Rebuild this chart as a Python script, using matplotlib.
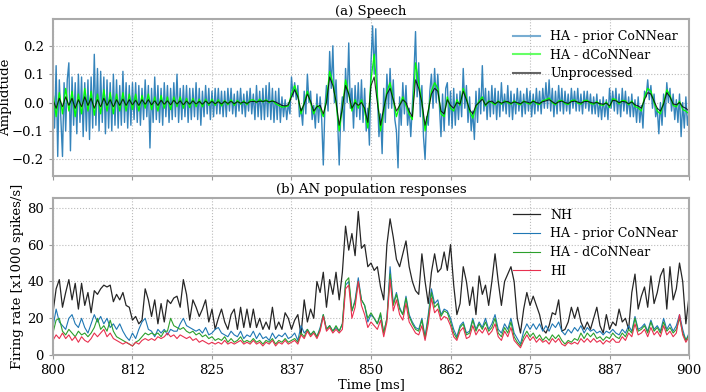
import numpy as np
import matplotlib
matplotlib.use('Agg')
import matplotlib.pyplot as plt
from matplotlib.ticker import FormatStrFormatter

plt.rcParams['font.family'] = 'DejaVu Serif'
plt.rcParams['font.size'] = 9

# %% data
# (a) speech waveform, unprocessed + dCoNNear on a 0.5 ms grid, prior CoNNear on 0.25 ms
t_half = np.arange(800, 900.01, 0.5)
t_quarter = np.arange(800, 900.01, 0.25)

unprocessed = [
    0.01, -0.02, 0.015, -0.015, 0.02, -0.01, 0.015, -0.02, 0.01, -0.015,
    0.02, -0.01, 0.015, -0.02, 0.01, -0.015, 0.015, -0.01, 0.01, -0.015,
    0.01, -0.01, 0.012, -0.01, 0.01, -0.008, 0.008, -0.01, 0.01, -0.006,
    0.01, -0.008, 0.006, -0.01, 0.008, -0.006, 0.006, -0.008, 0.008, -0.005,
    0.006, -0.008, 0.005, -0.006, 0.006, -0.005, 0.004, -0.006, 0.005, -0.004,
    0.004, -0.004, 0.003, -0.005, 0.004, -0.003, 0.004, -0.004, 0.003, -0.002,
    0.002, -0.003, 0.003, 0.004, 0.002, 0.005, 0.004, 0.006, 0.003, 0.005,
    0.002, -0.004, -0.01, -0.012, -0.008, 0.02, 0.045, 0.02, -0.03, -0.005,
    0.03, 0.005, -0.03, -0.015, -0.01, -0.04, 0.0, 0.09, 0.06, 0.005,
    -0.08, -0.02, 0.06, 0.03, -0.02, 0.0, -0.01, 0.0, -0.02, -0.07,
    0.06, 0.09, 0.0, -0.08, -0.02, 0.03, 0.05, 0.01, -0.03, -0.01,
    0.01, 0.0, -0.03, -0.05, 0.08, 0.05, 0.0, -0.08, -0.03, 0.03,
    0.05, 0.04, -0.03, -0.04, 0.01, -0.01, -0.02, 0.0, -0.005, 0.04,
    0.01, -0.025, -0.04, -0.01, 0.0, 0.012, -0.008, 0.002, 0.005, -0.004,
    0.003, -0.002, 0.002, 0.004, -0.003, 0.002, 0.0, -0.004, 0.003, 0.002,
    -0.002, 0.004, 0.0, -0.003, 0.003, 0.006, 0.01, 0.003, -0.004, 0.002,
    0.005, 0.0, -0.003, 0.003, 0.005, 0.002, -0.002, 0.003, 0.004, 0.001,
    -0.002, 0.0, -0.004, -0.006, -0.002, -0.012, 0.008, 0.006, 0.0, 0.004,
    0.002, -0.004, 0.002, -0.008, -0.012, -0.02, 0.01, 0.035, 0.03, 0.005,
    -0.02, -0.03, -0.005, 0.035, 0.02, -0.005, -0.008, 0.0, -0.015, -0.02,
    -0.03]

ha_dconnear_wav = [
    0.04, -0.05, 0.035, -0.04, 0.05, -0.03, 0.04, -0.05, 0.03, -0.04,
    0.05, -0.03, 0.04, -0.045, 0.03, -0.04, 0.045, -0.03, 0.035, -0.04,
    0.03, -0.03, 0.035, -0.03, 0.03, -0.025, 0.03, -0.03, 0.025, -0.02,
    0.03, -0.025, 0.02, -0.03, 0.025, -0.02, 0.02, -0.025, 0.02, -0.015,
    0.02, -0.02, 0.015, -0.018, 0.015, -0.015, 0.012, -0.015, 0.012, -0.01,
    0.012, -0.01, 0.01, -0.012, 0.008, -0.008, 0.01, -0.01, 0.008, -0.006,
    0.006, -0.008, 0.008, 0.01, 0.0, 0.012, 0.002, 0.01, 0.0, 0.008,
    -0.004, -0.01, -0.016, -0.015, -0.012, 0.03, 0.06, 0.025, -0.04, 0.0,
    0.04, 0.0, -0.04, -0.01, -0.02, -0.05, 0.01, 0.11, 0.07, 0.0,
    -0.1, -0.02, 0.08, 0.03, -0.03, 0.01, -0.02, 0.01, -0.03, -0.09,
    0.08, 0.17, 0.02, -0.1, -0.03, 0.04, 0.07, 0.01, -0.05, -0.01,
    0.02, -0.01, -0.04, -0.06, 0.14, 0.07, 0.0, -0.1, -0.03, 0.04,
    0.07, 0.05, -0.04, -0.05, 0.02, -0.02, -0.03, 0.01, -0.01, 0.05,
    0.015, -0.03, -0.055, -0.015, 0.005, 0.02, -0.012, 0.006, 0.0, -0.008,
    0.006, -0.006, 0.006, 0.0, -0.006, 0.006, -0.004, -0.008, 0.006, -0.002,
    -0.006, 0.008, -0.004, -0.007, 0.007, 0.01, 0.016, 0.0, -0.008, 0.006,
    0.008, -0.004, -0.007, 0.007, 0.009, -0.002, -0.006, 0.007, 0.008, -0.003,
    -0.006, 0.004, -0.008, -0.01, 0.002, -0.018, 0.014, 0.01, -0.005, 0.008,
    0.006, -0.008, 0.006, -0.014, -0.018, -0.03, 0.02, 0.05, 0.04, 0.0,
    -0.03, -0.04, 0.0, 0.045, 0.025, -0.01, -0.015, 0.005, -0.025, -0.03,
    -0.04]

ha_prior_wav = [
    0.06, -0.09, 0.13, -0.19, 0.08, -0.06, -0.19, 0.07, -0.1, 0.08, 0.14, -0.17, 0.09, -0.08, 0.07, -0.11, 0.1, -0.07, 0.09, -0.12,
    0.07, -0.1, 0.08, -0.13, 0.09, -0.09, 0.17, -0.08, 0.12, -0.1, 0.11, -0.07, 0.09, -0.11, 0.08, -0.09, 0.07, -0.1, 0.1, -0.08,
    0.08, -0.09, 0.06, -0.08, 0.11, -0.07, 0.07, -0.09, 0.06, -0.08, 0.07, -0.06, 0.07, -0.07, 0.06, -0.08, 0.05, -0.06, 0.08, -0.05,
    0.06, -0.16, 0.05, -0.07, 0.09, -0.06, 0.06, -0.07, 0.05, -0.08, 0.07, -0.05, 0.06, -0.07, 0.05, -0.06, 0.07, -0.05, 0.1, -0.07,
    0.05, -0.06, 0.06, -0.05, 0.06, -0.07, 0.05, -0.06, 0.05, -0.05, 0.07, -0.06, 0.05, -0.08, 0.04, -0.05, 0.06, -0.04, 0.05, -0.06,
    0.04, -0.05, 0.05, -0.04, 0.05, -0.04, 0.04, -0.05, 0.04, -0.05, 0.05, -0.03, 0.05, -0.04, 0.03, -0.05, 0.04, -0.03, 0.05, -0.04,
    0.03, -0.05, 0.04, -0.03, 0.05, -0.04, 0.03, -0.06, 0.06, -0.05, 0.04, -0.06, 0.05, -0.06, 0.06, -0.05, 0.07, -0.06, 0.05, -0.07,
    0.04, -0.06, 0.05, -0.07, 0.02, -0.05, 0.01, -0.06, 0.0, -0.04, 0.09, 0.02, 0.07, 0.01, 0.06, -0.05, -0.02, -0.08, 0.04, -0.04,
    0.1, 0.0, 0.04, -0.06, -0.01, -0.09, 0.03, -0.07, 0.02, -0.06, -0.22, -0.02, 0.06, -0.03, 0.18, 0.05, 0.2, 0.0, 0.08, -0.06,
    -0.22, -0.04, 0.02, -0.1, 0.12, 0.0, 0.21, -0.02, 0.05, -0.09, 0.06, -0.05, 0.07, -0.06, 0.08, -0.07, 0.05, -0.1, -0.02, -0.15,
    0.14, 0.27, 0.1, 0.26, 0.03, -0.12, -0.04, -0.18, 0.05, -0.07, 0.1, -0.02, 0.12, -0.02, 0.08, -0.06, -0.1, -0.23, 0.02, -0.08,
    0.07, -0.04, 0.06, -0.08, -0.02, -0.12, -0.01, 0.1, 0.25, 0.02, 0.14, -0.05, 0.06, -0.12, -0.2, -0.05, -0.08, 0.04, 0.1, -0.02,
    0.12, 0.0, 0.1, -0.01, -0.12, 0.03, -0.1, 0.05, 0.07, -0.08, 0.04, -0.09, 0.05, -0.08, 0.03, -0.06, 0.04, -0.05, 0.12, -0.02,
    0.06, -0.07, 0.02, -0.1, -0.03, -0.13, 0.04, -0.07, 0.05, -0.04, 0.13, -0.03, 0.05, -0.06, 0.04, -0.05, 0.06, -0.04, 0.05, -0.06,
    0.04, -0.05, 0.07, -0.03, 0.03, -0.04, 0.06, -0.05, 0.04, -0.06, 0.03, -0.04, 0.05, -0.03, 0.04, -0.05, 0.03, -0.04, 0.05, -0.03,
    0.04, -0.05, 0.03, -0.04, 0.05, -0.03, 0.04, -0.04, 0.05, -0.02, 0.07, -0.02, 0.08, -0.03, 0.05, -0.05, 0.04, -0.04, 0.06, -0.03,
    0.05, -0.04, 0.04, -0.03, 0.03, -0.04, 0.05, -0.02, 0.04, -0.03, 0.05, -0.03, 0.03, -0.04, 0.04, -0.02, 0.04, -0.03, 0.03, -0.04,
    0.02, -0.04, 0.03, -0.05, 0.01, -0.06, 0.02, -0.05, 0.01, -0.06, 0.05, -0.02, 0.04, -0.03, 0.05, -0.04, 0.03, -0.05, 0.05, -0.03,
    0.04, -0.04, 0.02, -0.05, 0.03, -0.05, 0.01, -0.07, 0.02, -0.07, -0.01, -0.09, 0.04, 0.02, 0.08, 0.01, 0.06, -0.02, 0.03, -0.05,
    -0.02, -0.11, 0.0, -0.08, 0.03, -0.05, 0.07, 0.0, 0.05, -0.03, 0.03, -0.06, 0.01, -0.07, 0.03, -0.12, 0.0, -0.09, 0.02, -0.08,
    -0.03]

# (b) AN population responses [x1000 spikes/s], 0.5 ms grid
nh = [
    23, 36, 41, 26, 34, 41, 30, 39, 25, 39,
    27, 34, 23, 35, 33, 36, 38, 37, 38, 29,
    33, 30, 34, 27, 26, 19, 21, 17, 19, 36,
    30, 21, 30, 17, 28, 18, 30, 28, 31, 32,
    26, 41, 33, 19, 30, 26, 21, 25, 30, 18,
    25, 14, 20, 25, 18, 14, 22, 25, 14, 26,
    15, 25, 15, 25, 15, 20, 14, 18, 14, 26,
    14, 18, 14, 23, 20, 14, 19, 22, 11, 30,
    18, 25, 20, 40, 34, 45, 26, 41, 33, 45,
    30, 45, 70, 57, 66, 54, 78, 58, 60, 48,
    50, 46, 48, 37, 30, 60, 74, 64, 52, 48,
    55, 62, 48, 40, 35, 33, 55, 40, 28, 45,
    55, 45, 47, 56, 46, 60, 38, 22, 28, 48,
    40, 27, 37, 22, 43, 33, 38, 27, 40, 55,
    40, 27, 40, 44, 48, 40, 20, 12, 25, 34,
    27, 32, 27, 22, 14, 12, 16, 23, 22, 30,
    13, 14, 18, 26, 20, 26, 18, 14, 18, 14,
    20, 26, 16, 12, 22, 14, 18, 16, 25, 18,
    20, 14, 34, 44, 25, 32, 37, 26, 43, 28,
    34, 43, 47, 25, 48, 30, 36, 50, 40, 17,
    32]

ha_prior = [
    15, 25, 18, 16, 14, 20, 22, 17, 15, 20,
    15, 12, 17, 22, 18, 21, 17, 20, 15, 17,
    14, 17, 13, 10, 8, 12, 9, 14, 18, 20,
    14, 13, 10, 14, 12, 14, 11, 14, 13, 13,
    17, 20, 16, 15, 14, 13, 14, 12, 15, 11,
    12, 14, 15, 12, 11, 10, 13, 11, 10, 13,
    9, 11, 10, 13, 9, 12, 9, 10, 8, 12,
    9, 11, 10, 12, 9, 10, 12, 8, 16, 12,
    14, 11, 13, 10, 15, 22, 14, 16, 13, 15,
    13, 17, 38, 40, 24, 30, 42, 30, 27, 18,
    22, 20, 17, 22, 12, 20, 48, 28, 34, 26,
    22, 32, 22, 18, 15, 14, 20, 10, 22, 36,
    28, 30, 22, 25, 24, 20, 14, 10, 16, 18,
    12, 13, 20, 14, 18, 15, 20, 14, 17, 22,
    14, 12, 17, 14, 20, 12, 9, 6, 13, 17,
    14, 17, 14, 17, 13, 16, 13, 17, 15, 18,
    13, 11, 14, 12, 15, 13, 16, 12, 15, 13,
    14, 12, 13, 11, 13, 12, 14, 12, 11, 14,
    12, 16, 13, 21, 14, 15, 17, 13, 19, 14,
    16, 13, 20, 14, 17, 13, 16, 22, 14, 8,
    12]

ha_dconnear = [
    12, 19, 20, 13, 11, 14, 12, 10, 13, 11,
    12, 10, 12, 15, 20, 14, 16, 13, 19, 13,
    10, 9, 8, 7, 6, 5, 7, 8, 10, 12,
    11, 12, 11, 12, 10, 13, 13, 20, 16, 15,
    14, 15, 13, 12, 13, 11, 12, 10, 11, 9,
    10, 8, 9, 8, 10, 7, 9, 7, 8, 10,
    7, 8, 7, 9, 7, 8, 6, 8, 7, 9,
    6, 8, 7, 9, 7, 8, 9, 7, 12, 10,
    14, 11, 13, 10, 14, 22, 14, 16, 13, 16,
    13, 17, 40, 42, 24, 29, 40, 30, 27, 20,
    23, 20, 17, 23, 12, 20, 44, 27, 33, 25,
    22, 31, 21, 17, 14, 13, 19, 9, 20, 34,
    26, 28, 21, 24, 23, 18, 12, 9, 15, 17,
    11, 12, 19, 13, 17, 14, 18, 13, 15, 20,
    12, 10, 15, 12, 18, 10, 7, 5, 10, 13,
    10, 12, 9, 11, 8, 10, 8, 11, 9, 11,
    8, 6, 8, 7, 9, 8, 12, 9, 12, 10,
    12, 9, 10, 8, 10, 9, 12, 10, 9, 12,
    10, 14, 12, 20, 13, 14, 16, 12, 18, 13,
    15, 12, 18, 13, 15, 12, 14, 20, 12, 8,
    11]

hi = [
    8, 11, 9, 12, 9, 11, 8, 10, 7, 10,
    8, 7, 9, 12, 10, 12, 14, 10, 12, 9,
    8, 7, 6, 7, 6, 5, 7, 6, 8, 9,
    8, 9, 8, 10, 9, 10, 12, 10, 11, 9,
    11, 10, 9, 10, 8, 9, 7, 8, 7, 6,
    7, 6, 7, 6, 8, 6, 7, 6, 7, 8,
    6, 7, 6, 8, 6, 7, 5, 7, 6, 8,
    5, 7, 6, 8, 6, 7, 8, 6, 11, 9,
    13, 10, 12, 9, 13, 21, 13, 15, 12, 14,
    12, 14, 36, 38, 20, 26, 40, 27, 22, 15,
    18, 16, 14, 19, 10, 18, 41, 24, 30, 22,
    19, 28, 18, 15, 12, 11, 16, 8, 17, 31,
    23, 25, 19, 21, 20, 16, 10, 8, 13, 15,
    9, 10, 16, 11, 14, 12, 15, 11, 13, 17,
    10, 8, 13, 10, 15, 8, 6, 4, 8, 11,
    8, 10, 7, 9, 7, 8, 6, 9, 7, 9,
    6, 5, 7, 6, 7, 6, 9, 7, 9, 7,
    9, 7, 8, 6, 8, 7, 9, 7, 7, 10,
    8, 12, 10, 17, 11, 12, 14, 10, 15, 11,
    13, 10, 16, 11, 13, 10, 12, 22, 11, 7,
    10]

x_ticks = np.linspace(800, 900, 9)

# %%
fig, (ax1, ax2) = plt.subplots(2, 1, figsize=(7.06, 3.92), dpi=100, sharex=True)
fig.subplots_adjust(left=0.075, right=0.976, top=0.952, bottom=0.094, hspace=0.135)

ax1.plot(t_quarter, ha_prior_wav, c='#1f77b4', lw=1.0, alpha=0.9, label='HA - prior CoNNear')
ax1.plot(t_half, ha_dconnear_wav, c='#00ff00', lw=0.9, label='HA - dCoNNear')
ax1.plot(t_half, unprocessed, c='k', lw=0.8, alpha=0.8, label='Unprocessed')
ax1.set_ylabel('Amplidtude', fontsize=9.5)
ax1.yaxis.set_label_coords(-0.064, 0.5)
ax1.set_title('(a) Speech', fontsize=9.5, pad=3)
ax1.set_ylim(-0.26, 0.295)
ax1.set_yticks([-0.2, -0.1, 0.0, 0.1, 0.2])
leg1 = ax1.legend(loc='upper right', frameon=False, fontsize=9, handlelength=2.2,
                  borderaxespad=0.5, labelspacing=0.45)
for h in leg1.get_lines():
    h.set_alpha(0.6)
    h.set_linewidth(1.5)

ax2.plot(t_half, nh, c='k', lw=0.9, alpha=0.85, label='NH')
ax2.plot(t_half, ha_prior, c='#1f77b4', lw=0.8, label='HA - prior CoNNear')
ax2.plot(t_half, ha_dconnear, c='#2ca02c', lw=0.8, label='HA - dCoNNear')
ax2.plot(t_half, hi, c='#e8304f', lw=0.8, label='HI')
ax2.set_ylabel('Firing rate [x1000 spikes/s]', fontsize=9.5)
ax2.yaxis.set_label_coords(-0.045, 0.5)
ax2.set_xlabel('Time [ms]', labelpad=1, fontsize=9.5)
ax2.set_title('(b) AN population responses', fontsize=9.5, pad=3)
ax2.set_ylim(0, 85.5)
ax2.set_yticks([0, 20, 40, 60, 80])
ax2.legend(loc='upper right', frameon=False, fontsize=9, handlelength=2.2,
           borderaxespad=0.5, labelspacing=0.45)

ax2.set_xlim(800, 900)
ax2.set_xticks(x_ticks)
ax2.xaxis.set_major_formatter(FormatStrFormatter('%d'))

for ax_ in [ax1, ax2]:
    ax_.grid(True, ls=':', c='#bbbbbb', lw=0.8)
    ax_.tick_params(labelsize=9.5, color='#999999', length=3)
    for s in ax_.spines.values():
        s.set_color('#aaaaaa')
        s.set_linewidth(1.5)

fig.savefig('out.png', dpi=100)
